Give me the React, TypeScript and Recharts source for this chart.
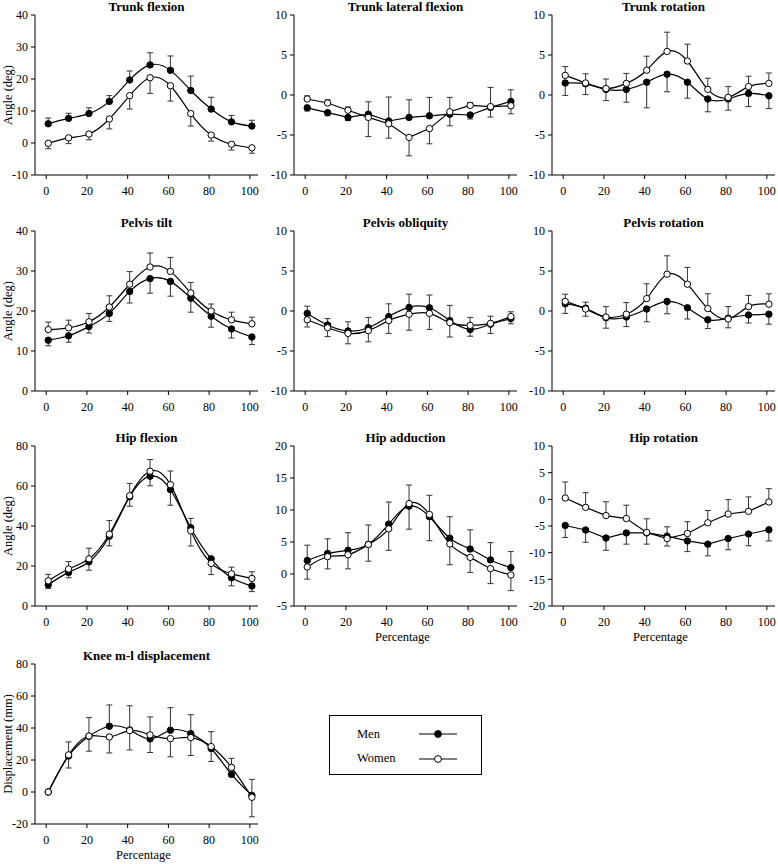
import { useMemo } from "react"
import { LineChart, Line, XAxis, YAxis, ErrorBar, Label } from "recharts"

const FONT = '"Liberation Serif", "Times New Roman", serif'

// percentage of the movement where each sample sits
const pct = [1, 11, 21, 31, 41, 51, 61, 71, 81, 91, 101]
const pctTicks = [0, 20, 40, 60, 80, 100]

const trunkFlexMen = [6.0, 7.7, 9.2, 13.0, 19.7, 24.4, 22.7, 16.4, 10.6, 6.6, 5.3]
const trunkFlexMenSd = [1.8, 1.6, 1.8, 1.8, 2.8, 3.8, 4.5, 4.5, 3.7, 2.0, 1.8]
const trunkFlexWomen = [-0.1, 1.6, 2.8, 7.5, 14.8, 20.4, 17.9, 9.2, 2.5, -0.4, -1.5]
const trunkFlexWomenSd = [1.7, 1.8, 1.8, 3.1, 4.2, 4.9, 4.8, 3.9, 1.9, 1.8, 1.7]

const trunkLatMen = [-1.6, -2.2, -2.8, -2.4, -3.25, -2.8, -2.6, -2.4, -2.5, -1.55, -0.8]
const trunkLatMenSd = [0.4, 0.4, 0.4, 1.55, 3.0, 2.2, 2.3, 1.45, 0.5, 1.2, 1.45]
const trunkLatWomen = [-0.5, -1.0, -1.9, -2.8, -3.6, -5.3, -4.2, -2.1, -1.3, -1.45, -1.35]
const trunkLatWomenSd = [0.4, 0.4, 0.4, 2.4, 1.8, 2.3, 1.9, 1.8, 0.35, 2.4, 1.0]

const trunkRotMen = [1.5, 1.4, 0.7, 0.7, 1.6, 2.6, 1.6, -0.5, -0.5, 0.2, -0.1]
const trunkRotMenSd = [1.55, 1.35, 1.4, 1.6, 3.2, 2.2, 2.0, 1.6, 1.4, 1.65, 1.6]
const trunkRotWomen = [2.45, 1.5, 0.8, 1.45, 3.1, 5.45, 4.25, 0.7, -0.3, 1.05, 1.45]
const trunkRotWomenSd = [1.1, 1.15, 1.2, 1.25, 1.75, 2.4, 2.1, 1.4, 1.35, 1.3, 1.3]

const pelvisTiltMen = [12.7, 13.8, 16.1, 19.4, 24.9, 28.1, 27.4, 23.2, 18.7, 15.5, 13.5]
const pelvisTiltMenSd = [1.4, 1.6, 1.6, 2.0, 2.9, 3.65, 3.7, 3.5, 2.75, 2.25, 1.9]
const pelvisTiltWomen = [15.35, 15.8, 17.3, 21.0, 26.7, 31.0, 29.9, 24.5, 20.0, 17.8, 16.8]
const pelvisTiltWomenSd = [1.9, 1.9, 2.1, 2.8, 3.15, 3.5, 3.5, 2.65, 1.75, 1.9, 1.65]

const pelvisObqMen = [-0.3, -1.75, -2.5, -2.1, -0.7, 0.45, 0.4, -1.2, -2.3, -1.65, -0.95]
const pelvisObqMenSd = [0.9, 0.8, 1.15, 1.3, 1.6, 1.65, 1.6, 1.9, 0.85, 1.15, 0.65]
const pelvisObqWomen = [-1.1, -2.1, -2.8, -2.45, -1.2, -0.4, -0.3, -1.45, -1.8, -1.55, -0.7]
const pelvisObqWomenSd = [0.9, 1.1, 1.3, 1.4, 1.6, 2.0, 2.0, 1.8, 1.0, 0.9, 0.6]

const pelvisRotMen = [0.9, 0.35, -0.85, -0.75, 0.25, 1.2, 0.4, -1.1, -0.9, -0.5, -0.4]
const pelvisRotMenSd = [1.2, 0.75, 1.3, 1.2, 1.6, 1.55, 1.4, 1.1, 1.45, 1.0, 1.25]
const pelvisRotWomen = [1.2, 0.25, -0.75, -0.4, 1.55, 4.6, 3.35, 0.3, -1.0, 0.55, 0.85]
const pelvisRotWomenSd = [0.9, 0.9, 1.3, 1.45, 1.85, 2.3, 2.1, 1.85, 1.1, 1.4, 1.3]

const hipFlexMen = [10.6, 16.8, 22.1, 34.9, 54.6, 64.9, 58.2, 39.1, 23.6, 14.1, 10.0]
const hipFlexMenSd = [1.8, 2.7, 4.2, 4.8, 4.7, 4.8, 7.8, 4.7, 0.6, 4.0, 2.8]
const hipFlexWomen = [12.6, 18.5, 23.6, 35.9, 55.1, 67.4, 60.7, 37.6, 21.3, 16.1, 13.8]
const hipFlexWomenSd = [3.2, 3.7, 5.3, 6.8, 6.2, 5.8, 6.8, 7.6, 5.6, 3.3, 3.3]

const hipAddMen = [2.1, 3.2, 3.7, 4.65, 7.8, 10.6, 8.95, 5.6, 3.9, 2.2, 1.0]
const hipAddMenSd = [2.4, 2.3, 2.75, 3.0, 3.45, 3.6, 3.75, 3.35, 3.0, 2.7, 2.5]
const hipAddWomen = [1.1, 2.7, 3.0, 4.6, 7.05, 11.0, 9.3, 4.7, 2.6, 0.85, -0.15]
const hipAddWomenSd = [1.9, 1.9, 2.2, 2.6, 3.35, 2.9, 3.0, 3.25, 2.35, 2.35, 2.45]

const hipRotMen = [-4.9, -5.75, -7.25, -6.3, -6.3, -6.9, -7.8, -8.4, -7.35, -6.5, -5.7]
const hipRotMenSd = [2.25, 2.3, 2.3, 2.1, 2.1, 1.75, 2.0, 2.2, 2.1, 2.2, 2.1]
const hipRotWomen = [0.25, -1.5, -3.05, -3.6, -6.2, -7.35, -6.4, -4.4, -2.75, -2.25, -0.5]
const hipRotWomenSd = [3.0, 2.75, 2.6, 2.5, 2.55, 1.4, 2.2, 2.3, 2.7, 2.7, 2.5]

const kneeMen = [0, 22.5, 34.8, 41.1, 38.8, 33.2, 38.6, 36.5, 27.2, 11.0, -2.1]
const kneeMenSd = [0, 7.5, 9.3, 13.3, 15.1, 8.5, 14.1, 11.8, 8.1, 1.2, 10.0]
const kneeWomen = [0, 23.2, 35.0, 34.4, 38.4, 35.7, 33.4, 34.0, 28.4, 15.4, -3.3]
const kneeWomenSd = [0, 8.1, 11.5, 10.0, 12.1, 11.2, 11.4, 11.2, 9.3, 5.6, 12.2]

type CurveType = "natural" | "linear"

type PanelDef = {
  title: string
  col: number
  row: number
  men: number[]
  menSd: number[]
  women: number[]
  womenSd: number[]
  domain: [number, number]
  ticks: number[]
  curve: CurveType
  yLabel?: string
  xLabel?: string
}

const COL_LEFT = [0, 259, 517]
const ROW_TOP = [0, 216, 431, 649]

// the upper curve carries its SD bar upwards, the lower one downwards
function buildRows(men: number[], women: number[], menSd: number[], womenSd: number[]) {
  return pct.map((x, i) => {
    const menUp = men[i] >= women[i]
    return {
      x,
      men: men[i],
      women: women[i],
      menErr: menUp ? [0, menSd[i]] : [menSd[i], 0],
      womenErr: menUp ? [womenSd[i], 0] : [0, womenSd[i]],
    }
  })
}

const tickStyle = { fill: "#000", fontSize: 12, fontFamily: FONT }

function Panel(p: PanelDef) {
  const rows = useMemo(
    () => buildRows(p.men, p.women, p.menSd, p.womenSd),
    [p.men, p.women, p.menSd, p.womenSd]
  )

  return (
    <div style={{ position: "absolute", left: COL_LEFT[p.col], top: ROW_TOP[p.row], width: 260, height: 215 }}>
      <div
        style={{
          position: "absolute",
          left: 35,
          width: 223,
          top: 0,
          textAlign: "center",
          fontFamily: FONT,
          fontWeight: "bold",
          fontSize: 13,
          lineHeight: "13px",
          color: "#000",
          whiteSpace: "nowrap",
        }}
      >
        {p.title}
      </div>
      <LineChart width={260} height={215} data={rows} margin={{ top: 15, right: 2, bottom: 0, left: 5 }}>
        <XAxis
          type="number"
          dataKey="x"
          domain={[-5.5, 104]}
          ticks={pctTicks}
          allowDataOverflow
          height={40}
          tickSize={4}
          tickMargin={7}
          stroke="#000"
          tick={tickStyle}
        >
          {p.xLabel && (
            <Label
              content={(props: any) => {
                const vb = props.viewBox || { x: 35, y: 175, width: 223 }
                return (
                  <text
                    x={vb.x + vb.width / 2 - 3}
                    y={vb.y + 35}
                    textAnchor="middle"
                    fill="#000"
                    style={{ fontFamily: FONT, fontSize: 12.5 }}
                  >
                    {p.xLabel}
                  </text>
                )
              }}
            />
          )}
        </XAxis>
        <YAxis
          type="number"
          domain={p.domain}
          ticks={p.ticks}
          allowDataOverflow
          width={30}
          tickSize={4}
          tickMargin={3}
          stroke="#000"
          tick={tickStyle}
        >
          {p.yLabel && (
            <Label
              content={() => (
                <text
                  x={8}
                  y={95}
                  transform="rotate(-90 8 95)"
                  textAnchor="middle"
                  dominantBaseline="central"
                  fill="#000"
                  style={{ fontFamily: FONT, fontSize: 12.5 }}
                >
                  {p.yLabel}
                </text>
              )}
            />
          )}
        </YAxis>
        <Line
          dataKey="men"
          type={p.curve}
          stroke="#000"
          strokeWidth={1.2}
          dot={{ r: 3.2, fill: "#000", stroke: "#000", strokeWidth: 1 }}
          activeDot={false}
          isAnimationActive={false}
        >
          <ErrorBar dataKey="menErr" direction="y" width={3} stroke="#333" strokeWidth={1} />
        </Line>
        <Line
          dataKey="women"
          type={p.curve}
          stroke="#000"
          strokeWidth={1.2}
          dot={{ r: 3.2, fill: "#fff", stroke: "#000", strokeWidth: 1 }}
          activeDot={false}
          isAnimationActive={false}
        >
          <ErrorBar dataKey="womenErr" direction="y" width={3} stroke="#333" strokeWidth={1} />
        </Line>
      </LineChart>
    </div>
  )
}

const panels: PanelDef[] = [
  { title: "Trunk flexion", col: 0, row: 0, men: trunkFlexMen, menSd: trunkFlexMenSd, women: trunkFlexWomen, womenSd: trunkFlexWomenSd, domain: [-10, 40], ticks: [-10, 0, 10, 20, 30, 40], curve: "natural", yLabel: "Angle (deg)" },
  { title: "Trunk lateral flexion", col: 1, row: 0, men: trunkLatMen, menSd: trunkLatMenSd, women: trunkLatWomen, womenSd: trunkLatWomenSd, domain: [-10, 10], ticks: [-10, -5, 0, 5, 10], curve: "linear" },
  { title: "Trunk rotation", col: 2, row: 0, men: trunkRotMen, menSd: trunkRotMenSd, women: trunkRotWomen, womenSd: trunkRotWomenSd, domain: [-10, 10], ticks: [-10, -5, 0, 5, 10], curve: "natural" },
  { title: "Pelvis tilt", col: 0, row: 1, men: pelvisTiltMen, menSd: pelvisTiltMenSd, women: pelvisTiltWomen, womenSd: pelvisTiltWomenSd, domain: [0, 40], ticks: [0, 10, 20, 30, 40], curve: "natural", yLabel: "Angle (deg)" },
  { title: "Pelvis obliquity", col: 1, row: 1, men: pelvisObqMen, menSd: pelvisObqMenSd, women: pelvisObqWomen, womenSd: pelvisObqWomenSd, domain: [-10, 10], ticks: [-10, -5, 0, 5, 10], curve: "natural" },
  { title: "Pelvis rotation", col: 2, row: 1, men: pelvisRotMen, menSd: pelvisRotMenSd, women: pelvisRotWomen, womenSd: pelvisRotWomenSd, domain: [-10, 10], ticks: [-10, -5, 0, 5, 10], curve: "natural" },
  { title: "Hip flexion", col: 0, row: 2, men: hipFlexMen, menSd: hipFlexMenSd, women: hipFlexWomen, womenSd: hipFlexWomenSd, domain: [0, 80], ticks: [0, 20, 40, 60, 80], curve: "natural", yLabel: "Angle (deg)" },
  { title: "Hip adduction", col: 1, row: 2, men: hipAddMen, menSd: hipAddMenSd, women: hipAddWomen, womenSd: hipAddWomenSd, domain: [-5, 20], ticks: [-5, 0, 5, 10, 15, 20], curve: "natural", xLabel: "Percentage" },
  { title: "Hip rotation", col: 2, row: 2, men: hipRotMen, menSd: hipRotMenSd, women: hipRotWomen, womenSd: hipRotWomenSd, domain: [-20, 10], ticks: [-20, -15, -10, -5, 0, 5, 10], curve: "linear", xLabel: "Percentage" },
  { title: "Knee m-l displacement", col: 0, row: 3, men: kneeMen, menSd: kneeMenSd, women: kneeWomen, womenSd: kneeWomenSd, domain: [-20, 80], ticks: [-20, 0, 20, 40, 60, 80], curve: "natural", yLabel: "Displacement (mm)", xLabel: "Percentage" },
]

function LegendBox() {
  const textStyle = { position: "absolute" as const, left: 27, fontFamily: FONT, fontSize: 12.5, lineHeight: "14px", color: "#000" }
  return (
    <div
      style={{
        position: "absolute",
        left: 329,
        top: 715,
        width: 153,
        height: 60,
        border: "1px solid #000",
        boxSizing: "border-box",
        background: "#fff",
      }}
    >
      <div style={{ ...textStyle, top: 11 }}>Men</div>
      <div style={{ ...textStyle, top: 35 }}>Women</div>
      <svg width={153} height={60} style={{ position: "absolute", left: -1, top: -1 }}>
        <line x1={90} x2={128} y1={19} y2={19} stroke="#000" strokeWidth={1.2} />
        <circle cx={109} cy={19} r={3.4} fill="#000" stroke="#000" />
        <line x1={90} x2={128} y1={44} y2={44} stroke="#000" strokeWidth={1.2} />
        <circle cx={109} cy={44} r={3.4} fill="#fff" stroke="#000" />
      </svg>
    </div>
  )
}

export default function App() {
  return (
    <div style={{ position: "absolute", left: 0, top: 0, width: 778, height: 864, background: "#fff", overflow: "hidden" }}>
      {panels.map((p) => (
        <Panel key={p.title} {...p} />
      ))}
      <LegendBox />
    </div>
  )
}
